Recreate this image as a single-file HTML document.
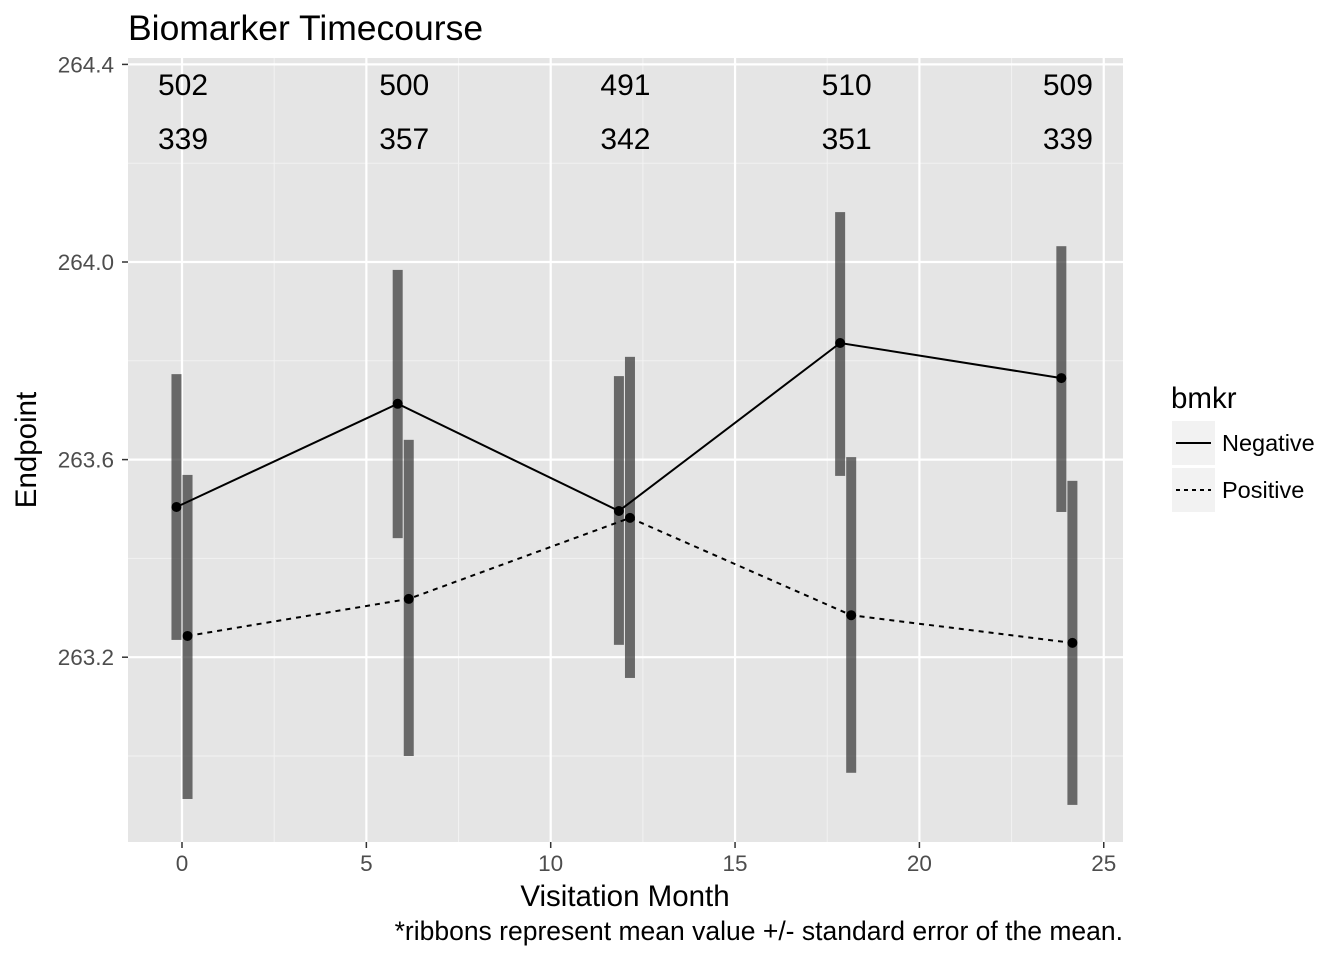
<!DOCTYPE html>
<html><head><meta charset="utf-8"><style>
body{margin:0;background:#fff;font-family:"Liberation Sans",sans-serif}
</style></head><body>
<svg id="chart" width="1344" height="960" xmlns="http://www.w3.org/2000/svg" font-family="Liberation Sans, sans-serif"></svg>
<script>
const months=[0,6,12,18,24];
const negMean=[263.504,263.713,263.496,263.836,263.765];
const negLo=[263.235,263.441,263.225,263.567,263.494];
const negHi=[263.773,263.984,263.769,264.101,264.032];
const posMean=[263.243,263.318,263.482,263.285,263.229];
const posLo=[262.913,263.0,263.158,262.966,262.901];
const posHi=[263.569,263.640,263.808,263.605,263.557];
const negN=[502,500,491,510,509];
const posN=[339,357,342,351,339];
const xTicks=[0,5,10,15,20,25];
const yTicks=[263.2,263.6,264.0,264.4];

const L=128,R=1123,T=58,B=842;
const X=v=>182+v*36.87;
const Y=v=>262+(264.0-v)*494;
const svg=document.getElementById('chart');
const NS='http://www.w3.org/2000/svg';
function mk(tag,attrs,parent){const e=document.createElementNS(NS,tag);for(const k in attrs)e.setAttribute(k,attrs[k]);(parent||svg).appendChild(e);return e;}
let e;
e=mk('rect',{x:L,y:T,width:R-L,height:B-T,fill:'#e5e5e5'});


for(const v of [2.5,7.5,12.5,17.5,22.5]){e=mk('line',{x1:X(v),x2:X(v),y1:T,y2:B,stroke:'#f2f2f2','stroke-width':1});}
for(const v of [263.0,263.4,263.8,264.2]){e=mk('line',{x1:L,x2:R,y1:Y(v),y2:Y(v),stroke:'#f2f2f2','stroke-width':1});}
for(const v of xTicks){e=mk('line',{x1:X(v),x2:X(v),y1:T,y2:B,stroke:'#fff','stroke-width':2.2});
 e=mk('line',{x1:X(v),x2:X(v),y1:B,y2:B+6,stroke:'#333','stroke-width':1.5});
 e=mk('text',{x:X(v),y:B+29,'text-anchor':'middle','font-size':22.5,fill:'#4d4d4d'});e.textContent=v;}
for(const v of yTicks){e=mk('line',{x1:L,x2:R,y1:Y(v),y2:Y(v),stroke:'#fff','stroke-width':2.2});
 e=mk('line',{x1:L-6,x2:L,y1:Y(v),y2:Y(v),stroke:'#333','stroke-width':1.5});
 e=mk('text',{x:L-14,y:Y(v)+8,'text-anchor':'end','font-size':22.5,fill:'#4d4d4d'});e.textContent=v.toFixed(1);}
const off=0.15;
months.forEach((m,i)=>{
 e=mk('rect',{x:X(m-off)-5,y:Y(negHi[i]),width:10,height:Y(negLo[i])-Y(negHi[i]),fill:'#333','fill-opacity':0.7});
 e=mk('rect',{x:X(m+off)-5,y:Y(posHi[i]),width:10,height:Y(posLo[i])-Y(posHi[i]),fill:'#333','fill-opacity':0.7});
});
e=mk('polyline',{points:months.map((m,i)=>X(m-off)+','+Y(negMean[i])).join(' '),fill:'none',stroke:'#000','stroke-width':2});
e=mk('polyline',{points:months.map((m,i)=>X(m+off)+','+Y(posMean[i])).join(' '),fill:'none',stroke:'#000','stroke-width':2,'stroke-dasharray':'5,5'});
months.forEach((m,i)=>{
 e=mk('circle',{cx:X(m-off),cy:Y(negMean[i]),r:5,fill:'#000'});
 e=mk('circle',{cx:X(m+off),cy:Y(posMean[i]),r:5,fill:'#000'});
 e=mk('text',{x:X(m)+1,y:95,'text-anchor':'middle','font-size':30,fill:'#000'});e.textContent=negN[i];
 e=mk('text',{x:X(m)+1,y:149,'text-anchor':'middle','font-size':30,fill:'#000'});e.textContent=posN[i];
});
function txt(s,a,name){const t=mk('text',a);t.textContent=s;return t;}
txt('Biomarker Timecourse',{x:128,y:40,'font-size':35.5,fill:'#000'},'chart-title');
txt('Visitation Month',{x:625,y:906,'text-anchor':'middle','font-size':29.5,fill:'#000'},'x-axis-title');
txt('Endpoint',{x:0,y:0,'text-anchor':'middle','font-size':29.5,fill:'#000',transform:'translate(36,450) rotate(-90)'},'y-axis-title');
txt('*ribbons represent mean value +/- standard error of the mean.',{x:1123,y:940,'text-anchor':'end','font-size':26.5,fill:'#000'},'caption');
txt('bmkr',{x:1171,y:408,'font-size':29.5,fill:'#000'},'legend-title');
const leg=[['Negative',null,443],['Positive','5,5',490]];
leg.forEach(([n,d,y])=>{
 let r=mk('rect',{x:1172,y:y-22,width:43,height:44,fill:'#f2f2f2'});
 let l=mk('line',{x1:1176,x2:1211,y1:y,y2:y,stroke:'#000','stroke-width':2});if(d)l.setAttribute('stroke-dasharray','4,4');
 txt(n,{x:1222,y:y+8,'font-size':23.5,fill:'#000'},'legend-label');
});
</script>
</body></html>
